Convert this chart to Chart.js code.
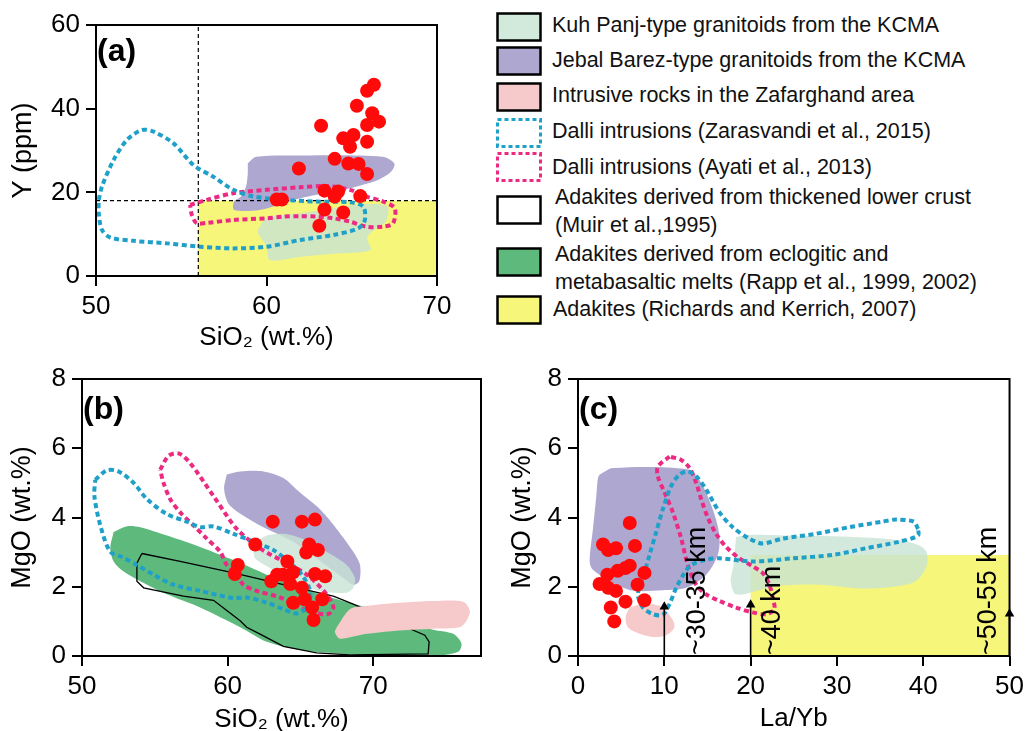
<!DOCTYPE html>
<html lang="en">
<head>
<meta charset="utf-8">
<title>Y and MgO vs SiO2 and La/Yb</title>
<script src="https://cdn.jsdelivr.net/npm/chart.js@4.4.1/dist/chart.umd.min.js"></script>
<style>
  html, body { margin: 0; padding: 0; background: #fff; }
  body { position: relative; width: 1032px; height: 731px; overflow: hidden;
         font-family: "Liberation Sans", Arial, Helvetica, sans-serif; }
  .panel { position: absolute; }
  .leg-box { position: absolute; left: 496px; }
  .leg-text { position: absolute; font-size: 21.5px; line-height: 28px; color: #111; white-space: nowrap; }
</style>
</head>
<body>
<canvas id="chartA" class="panel" width="460" height="352" style="left:0;top:0"></canvas>
<canvas id="chartB" class="panel" width="500" height="374" style="left:0;top:360px"></canvas>
<canvas id="chartC" class="panel" width="532" height="374" style="left:500px;top:360px"></canvas>
<div id="legend"></div>
<script>
// ---- panel (a): Y (ppm) vs SiO2 ----
const aSiO2 = [63.2, 65.3, 65.9, 66.3, 66.2, 66.6, 65.9, 64.5, 65.1, 64.9, 65.9, 64.0, 61.9,
               64.8, 65.4, 65.9, 63.4, 64.2, 64.0, 65.5, 60.6, 60.9, 63.4, 64.5, 63.1];
const aY = [35.9, 40.7, 44.3, 45.7, 38.9, 36.9, 36.1, 32.9, 33.7, 30.9, 32.1, 28.0, 25.7,
            26.9, 26.8, 24.4, 20.4, 20.2, 19.0, 19.1, 18.3, 18.3, 15.9, 15.2, 12.0];
const aAdakite = [[56, 0], [70, 0], [70, 18], [56, 18]];
const aGuideX = [[56, 0], [56, 60]];
const aGuideY = [[50, 18], [70, 18]];
const aKuhPanj = [[59.5, 11.0], [60.0, 13.8], [62.0, 15.0], [63.9, 16.2], [65.9, 17.2], [67.1, 16.6],
  [67.0, 13.0], [66.5, 11.6], [65.9, 9.2], [66.1, 6.2], [63.9, 5.3], [62.0, 4.6], [60.2, 3.8],
  [60.0, 7.0], [59.5, 10.2]];
const aJebal = [[58.9, 26.9], [59.4, 28.5], [62.0, 28.8], [66.8, 28.5], [67.5, 26.9], [67.3, 24.9],
  [66.5, 22.9], [64.9, 21.0], [63.9, 20.2], [62.0, 18.6], [61.0, 17.4], [59.6, 15.8], [58.1, 15.8],
  [58.1, 17.8], [58.5, 19.0], [58.8, 21.4], [58.9, 24.5]];
const aZarasvandi = [[50.16, 18.2], [50.35, 21.4], [51.03, 27.7], [51.81, 32.5], [52.69, 34.9],
  [53.38, 34.5], [54.55, 31.7], [55.72, 26.5], [56.89, 23.7], [58.06, 20.6], [59.23, 19.0],
  [60.99, 18.2], [62.94, 17.8], [64.89, 17.6], [65.67, 16.6], [65.77, 13.4], [65.38, 11.4],
  [63.91, 9.8], [61.96, 8.6], [60.01, 7.0], [58.06, 6.6], [56.11, 7.0], [54.16, 7.8], [52.2, 8.4],
  [50.84, 9.2], [50.35, 11.0], [50.16, 15.0]];
const aAyati = [[55.52, 17.0], [56.5, 18.2], [58.06, 19.8], [60.01, 20.6], [61.96, 21.2], [63.52, 21.5],
  [64.89, 20.6], [65.86, 19.0], [66.84, 17.8], [67.52, 16.2], [67.42, 12.6], [66.84, 11.8],
  [65.86, 11.8], [64.89, 13.0], [63.91, 13.8], [62.94, 14.2], [61.96, 14.3], [60.99, 14.2],
  [60.01, 13.8], [58.06, 13.4], [56.5, 12.7], [55.91, 12.6], [55.62, 14.6]];
const aXTicks = [50, 60, 70];
const aYTicks = [0, 20, 40, 60];

// ---- panel (b): MgO vs SiO2 ----
const bSiO2 = [63.1, 65.1, 66.0, 61.9, 65.6, 66.2, 65.4, 60.7, 60.5, 64.1, 63.4, 63.8,
               64.5, 63.0, 64.3, 66.0, 66.7, 65.1, 64.5, 65.3, 66.5, 65.8, 65.9];
const bMgO = [3.88, 3.88, 3.94, 3.22, 3.22, 3.06, 2.99, 2.63, 2.37, 2.73, 2.35, 2.35,
              2.42, 2.16, 2.08, 2.37, 2.30, 1.97, 1.54, 1.64, 1.64, 1.40, 1.04];
const bRapp = [[52.17, 3.58], [53.09, 3.75], [54.0, 3.72], [55.83, 3.48], [58.11, 3.15], [60.4, 2.77],
  [62.69, 2.35], [64.97, 1.97], [67.26, 1.67], [69.54, 1.40], [71.83, 1.02], [74.11, 0.76],
  [75.49, 0.64], [76.06, 0.36], [75.83, 0.12], [74.11, 0.0], [69.54, 0.03], [67.26, 0.08],
  [64.97, 0.17], [62.69, 0.41], [60.86, 0.83], [58.11, 1.40], [55.83, 1.78], [54.0, 2.16],
  [52.86, 2.44], [52.17, 2.73], [51.94, 3.11]];
const bMuir = [[54.11, 2.96], [56.74, 2.73], [60.4, 2.40], [63.83, 2.06], [67.26, 1.73], [68.63, 1.50],
  [73.54, 0.60], [73.84, 0.41], [73.77, 0.06], [68.4, 0.03], [66.11, 0.09], [63.83, 0.28],
  [62.23, 0.63], [61.31, 0.83], [60.86, 1.02], [59.03, 1.61], [56.97, 1.73], [54.23, 1.97],
  [53.77, 2.16], [53.77, 2.68]];
const bZafarghand = [[67.49, 0.83], [68.4, 1.35], [69.54, 1.45], [71.83, 1.54], [74.11, 1.59],
  [76.17, 1.57], [76.63, 1.31], [76.4, 1.02], [75.94, 0.83], [74.11, 0.79], [71.83, 0.74],
  [69.54, 0.64], [67.71, 0.50], [67.37, 0.69]];
const bJebal = [[59.94, 5.24], [60.86, 5.33], [62.46, 5.33], [63.83, 5.14], [64.97, 4.72], [66.34, 4.24],
  [67.49, 3.67], [68.63, 3.01], [69.09, 2.63], [69.04, 2.16], [68.63, 2.06], [67.94, 2.25],
  [66.11, 2.82], [64.51, 3.30], [62.23, 3.77], [60.17, 4.34], [59.76, 4.81]];
const bKuhPanj = [[61.77, 3.11], [62.46, 3.44], [63.83, 3.53], [65.43, 3.34], [66.8, 3.01], [68.17, 2.63],
  [68.74, 2.25], [68.63, 1.97], [68.17, 1.83], [66.34, 1.88], [64.51, 2.16], [62.91, 2.54], [61.89, 2.82]];
const bZarasvandi = [[50.91, 5.09], [51.71, 5.36], [52.51, 5.33], [53.54, 5.0], [54.46, 4.53],
  [55.83, 4.10], [57.2, 3.88], [58.11, 3.72], [59.03, 3.74], [60.4, 3.53], [61.77, 3.30],
  [63.14, 3.06], [64.17, 2.73], [65.09, 2.35], [65.66, 1.88], [65.54, 1.45], [64.74, 1.23],
  [63.83, 1.35], [62.69, 1.54], [61.31, 1.69], [60.4, 1.67], [58.11, 1.88], [56.28, 2.06],
  [54.91, 2.35], [53.77, 2.63], [52.8, 2.85], [51.94, 3.01], [51.26, 3.77], [50.85, 4.62]];
const bAyati = [[55.37, 5.38], [55.94, 5.78], [56.63, 5.85], [57.43, 5.57], [59.03, 4.62], [60.63, 3.67],
  [62.23, 3.11], [63.83, 2.73], [65.43, 2.35], [66.8, 1.78], [67.26, 1.40], [66.91, 1.21],
  [65.88, 1.26], [64.97, 1.40], [63.6, 1.69], [62.0, 1.88], [61.08, 2.06], [60.63, 2.35],
  [59.94, 2.63], [59.49, 3.01], [58.57, 3.39], [57.66, 3.77], [56.74, 4.15], [56.06, 4.53], [55.6, 5.0]];
const bXTicks = [50, 60, 70];
const bYTicks = [0, 2, 4, 6, 8];

// ---- panel (c): MgO vs La/Yb ----
const cLaYb = [6.0, 2.9, 3.5, 4.4, 6.6, 6.0, 4.6, 5.5, 3.4, 2.5, 3.5, 4.4, 6.9, 7.7, 5.5, 7.7, 3.8, 4.2];
const cMgO = [3.84, 3.22, 3.06, 3.11, 3.18, 2.61, 2.46, 2.54, 2.35, 2.08, 1.97, 1.88, 2.06, 2.40,
              1.57, 1.61, 1.40, 1.00];
const cAdakite = [[20, 0], [50, 0], [50, 2.92], [20, 2.92]];
const cJebal = [[2.51, 5.24], [4.05, 5.43], [12.53, 5.40], [14.07, 5.09], [15.61, 4.24], [16.38, 3.48],
  [16.19, 2.92], [14.85, 2.35], [12.53, 1.97], [9.83, 1.90], [6.36, 1.89], [4.05, 2.11],
  [1.73, 2.49], [1.35, 2.73], [1.73, 3.67], [2.12, 4.62], [2.31, 5.14]];
const cKuhPanj = [[18.3, 3.44], [20.2, 3.50], [25.6, 3.47], [29.5, 3.46], [33.4, 3.42], [37.2, 3.34],
  [39.5, 3.2], [40.4, 3.0], [40.4, 2.6], [39.1, 2.16], [36.5, 2.0], [33.0, 1.95], [28.0, 2.06],
  [24.0, 2.04], [21.0, 1.9], [18.3, 1.78], [17.7, 2.16], [18.0, 2.6], [18.2, 3.1]];
const cZafarghand = [[5.98, 1.40], [7.52, 1.50], [9.44, 1.45], [10.79, 1.12], [11.18, 0.83],
  [10.22, 0.60], [8.67, 0.55], [7.13, 0.64], [5.78, 0.83], [5.51, 1.12]];
const cZarasvandi = [[39.4, 3.67], [38.9, 3.88], [36.82, 3.94], [35.27, 3.88], [31.42, 3.72],
  [27.57, 3.53], [23.71, 3.39], [21.39, 3.25], [19.85, 3.39], [17.92, 3.72], [16.39, 4.15],
  [14.85, 4.81], [13.69, 5.19], [12.72, 5.33], [11.76, 5.24], [10.8, 4.91], [9.83, 4.24],
  [9.06, 3.58], [8.29, 2.92], [7.52, 2.25], [6.94, 1.78], [7.52, 1.40], [8.67, 1.21], [9.83, 1.19],
  [10.6, 1.50], [11.38, 1.97], [12.34, 2.40], [13.11, 2.63], [14.85, 2.78], [16.39, 2.82],
  [20.24, 2.73], [24.86, 2.82], [29.49, 2.92], [33.35, 3.11], [37.2, 3.30], [39.4, 3.48]];
const cAyati = [[10.6, 5.76], [9.25, 5.47], [9.25, 5.19], [10.03, 4.72], [10.99, 4.15], [11.96, 3.39],
  [12.72, 2.63], [13.69, 2.06], [14.85, 1.78], [16.39, 1.59], [18.32, 1.40], [20.24, 1.26],
  [21.78, 1.21], [22.75, 1.35], [22.55, 1.69], [22.17, 2.06], [21.39, 2.40], [20.24, 2.59],
  [18.7, 2.82], [17.16, 3.15], [16.0, 3.53], [15.03, 4.0], [14.27, 4.53], [13.69, 5.0],
  [12.92, 5.43], [11.96, 5.66]];
const arrowX = [10, 20, 50];
const arrowTop = [1.42, 1.48, 1.22];
const depthText = ['~30-35 km', '~40 km', '~50-55 km'];
const depthX = [13.8, 22.5, 47.6];
const depthY0 = 0.03;
const cXTicks = [0, 10, 20, 30, 40, 50];
const cYTicks = [0, 2, 4, 6, 8];

const legendLabels = [
  ['Kuh Panj-type granitoids from the KCMA'],
  ['Jebal Barez-type granitoids from the KCMA'],
  ['Intrusive rocks in the Zafarghand area'],
  ['Dalli intrusions (Zarasvandi et al., 2015)'],
  ['Dalli intrusions (Ayati et al., 2013)'],
  ['Adakites derived from thickened lower crust', '(Muir et al.,1995)'],
  ['Adakites derived from eclogitic and', 'metabasaltic melts (Rapp et al., 1999, 2002)'],
  ['Adakites (Richards and Kerrich, 2007)']
];

const FONT = '"Liberation Sans", Arial, Helvetica, sans-serif';
const COL = {
  kuh: 'rgba(200,228,212,0.8)', jebal: '#aea8d1', zaf: '#f6caca', rapp: '#5db97c',
  adak: '#f6f67a', blue: '#1fa0c9', pink: '#ec2a82', red: '#ff0a0a'
};

const pts = poly => poly.map(([x, y]) => ({ x, y }));
const ring = poly => pts(poly.concat([poly[0]]));

function area(poly, color, order, tension = 0.3) {
  return { type: 'line', data: ring(poly), backgroundColor: color, borderColor: 'rgba(0,0,0,0)',
           borderWidth: 0, fill: 'shape', pointRadius: 0, tension, order };
}
function dotted(poly, color, order) {
  return { type: 'line', data: ring(poly), borderColor: color, borderWidth: 4, borderDash: [5, 3.5],
           borderCapStyle: 'butt', fill: false, pointRadius: 0, tension: 0.3, order };
}
function outline(poly, order) {
  return { type: 'line', data: ring(poly), borderColor: '#000', borderWidth: 1.3, fill: false,
           pointRadius: 0, tension: 0, order };
}
function guide(seg) {
  return { type: 'line', data: pts(seg), borderColor: '#000', borderWidth: 1.2, borderDash: [4, 3],
           fill: false, pointRadius: 0, tension: 0, order: 3 };
}
function samples(xs, ys) {
  return { type: 'scatter', data: xs.map((x, i) => ({ x, y: ys[i] })), backgroundColor: COL.red,
           borderWidth: 0, pointRadius: 7, pointHoverRadius: 7, order: 0 };
}
function arrows() {
  return arrowX.map((x, i) => ({
    type: 'line', data: [{ x, y: 0 }, { x, y: arrowTop[i] }], borderColor: '#000', borderWidth: 1.6,
    pointRadius: [0, 5.5], pointStyle: 'triangle', pointBackgroundColor: '#000', pointBorderWidth: 0,
    fill: false, tension: 0, clip: false, order: 1
  }));
}

function axes(c) {
  const tickFont = { family: FONT, size: 26, lineHeight: 1 };
  const grid = () => ({ display: true, drawOnChartArea: false, drawTicks: true, tickLength: 10,
                        tickWidth: 2, lineWidth: 2, color: '#000', tickColor: '#000' });
  return {
    x: {
      type: 'linear', position: 'bottom', min: c.xRange[0], max: c.xRange[1],
      afterBuildTicks: s => { s.ticks = c.xTicks.map(v => ({ value: v })); },
      afterFit: s => { s.height = c.xH; },
      grid: grid(), border: { display: false },
      ticks: { color: '#000', font: tickFont, padding: 8, maxRotation: 0, autoSkip: false },
      title: { display: true, text: c.xTitle, color: '#000', font: { family: FONT, size: 26, lineHeight: 1 },
               padding: { top: 0, bottom: c.xTitlePad } }
    },
    y: {
      type: 'linear', position: 'left', min: c.yRange[0], max: c.yRange[1],
      afterBuildTicks: s => { s.ticks = c.yTicks.map(v => ({ value: v })); },
      afterFit: s => { s.width = c.yW; },
      grid: grid(), border: { display: false },
      ticks: { color: '#000', font: tickFont, padding: 6, autoSkip: false },
      title: { display: true, text: c.yTitle, color: '#000', font: { family: FONT, size: 27, lineHeight: 1 },
               padding: { top: c.yTitlePad, bottom: 0 } }
    }
  };
}

// frame box, panel letter, depth labels
const frame = {
  id: 'frame',
  afterDatasetsDraw(chart, args, opts) {
    const { ctx, chartArea: a } = chart;
    ctx.save();
    ctx.strokeStyle = '#000';
    ctx.lineWidth = 2;
    ctx.strokeRect(a.left, a.top, a.right - a.left, a.bottom - a.top);
    ctx.fillStyle = '#000';
    ctx.font = 'bold 32px ' + FONT;
    ctx.textAlign = 'left';
    ctx.textBaseline = 'alphabetic';
    ctx.fillText(opts.letter, a.left + 1, a.top + opts.letterDy);
    if (opts.depth) {
      const xs = chart.scales.x, ys = chart.scales.y;
      ctx.font = '27px ' + FONT;
      ctx.textBaseline = 'middle';
      depthText.forEach((t, i) => {
        ctx.save();
        ctx.translate(xs.getPixelForValue(depthX[i]), ys.getPixelForValue(depthY0));
        ctx.rotate(-Math.PI / 2);
        ctx.fillText(t, 0, 0);
        ctx.restore();
      });
    }
    ctx.restore();
  }
};

function makeChart(id, datasets, ax, pad, frameOpts) {
  return new Chart(document.getElementById(id), {
    type: 'scatter',
    data: { datasets },
    options: {
      responsive: false, animation: false, events: [],
      layout: { padding: pad },
      scales: axes(ax),
      plugins: { legend: { display: false }, tooltip: { enabled: false }, frame: frameOpts }
    },
    plugins: [frame]
  });
}

makeChart('chartA', [
  samples(aSiO2, aY),
  dotted(aZarasvandi, COL.blue, 2),
  dotted(aAyati, COL.pink, 2),
  guide(aGuideX), guide(aGuideY),
  area(aJebal, COL.jebal, 6),
  area(aKuhPanj, COL.kuh, 7),
  area(aAdakite, COL.adak, 9, 0)
], { xRange: [50, 70], yRange: [0, 60], xTicks: aXTicks, yTicks: aYTicks, xH: 76, yW: 96,
     xTitle: 'SiO\u2082 (wt.%)', yTitle: 'Y (ppm)', xTitlePad: 1, yTitlePad: 10.5 },
   { top: 25, right: 23, left: 0, bottom: 0 }, { letter: '(a)', letterDy: 36 });

makeChart('chartB', [
  samples(bSiO2, bMgO),
  dotted(bZarasvandi, COL.blue, 2),
  dotted(bAyati, COL.pink, 2),
  area(bKuhPanj, COL.kuh, 5),
  area(bJebal, COL.jebal, 6),
  area(bZafarghand, COL.zaf, 6),
  outline(bMuir, 7),
  area(bRapp, COL.rapp, 9)
], { xRange: [50, 77.4], yRange: [0, 8], xTicks: bXTicks, yTicks: bYTicks, xH: 78, yW: 82,
     xTitle: 'SiO\u2082 (wt.%)', yTitle: 'MgO (wt.%)', xTitlePad: 1, yTitlePad: 9.5 },
   { top: 14, right: 19, left: 0, bottom: 0 }, { letter: '(b)', letterDy: 40 });

makeChart('chartC', [
  samples(cLaYb, cMgO),
  ...arrows(),
  dotted(cZarasvandi, COL.blue, 2),
  dotted(cAyati, COL.pink, 2),
  area(cJebal, COL.jebal, 6),
  area(cZafarghand, COL.zaf, 6),
  area(cKuhPanj, COL.kuh, 7),
  area(cAdakite, COL.adak, 9, 0)
], { xRange: [0, 50], yRange: [0, 8], xTicks: cXTicks, yTicks: cYTicks, xH: 78, yW: 78,
     xTitle: 'La/Yb', yTitle: 'MgO (wt.%)', xTitlePad: 2, yTitlePad: 9.5 },
   { top: 14, right: 21, left: 0, bottom: 0 }, { letter: '(c)', letterDy: 40, depth: true });

// legend (HTML), swatch styles per row
const swatches = [
  { fill: '#d2eadb', stroke: '#000', dash: '' },
  { fill: '#aea8d1', stroke: '#000', dash: '' },
  { fill: '#f6caca', stroke: '#000', dash: '' },
  { fill: '#fff', stroke: COL.blue, dash: '4 3' },
  { fill: '#fff', stroke: COL.pink, dash: '4 3' },
  { fill: '#fff', stroke: '#000', dash: '' },
  { fill: '#5db97c', stroke: '#000', dash: '' },
  { fill: '#f6f67a', stroke: '#000', dash: '' }
];
const boxTop = [12, 46, 82, 118, 152, 195, 247, 295];
const textTop = [11, 46, 81, 117, 153, 183, 240, 295];
const textLeft = [552, 552, 552, 552, 552, 555, 555, 553];
const legend = document.getElementById('legend');
legendLabels.forEach((lines, i) => {
  const s = swatches[i];
  const w = s.dash ? 3 : 2.5;
  const box = document.createElement('div');
  box.className = 'leg-box';
  box.style.top = boxTop[i] + 'px';
  box.innerHTML = '<svg width="48" height="31"><rect x="1.5" y="1.5" width="43" height="27" fill="' + s.fill +
    '" stroke="' + s.stroke + '" stroke-width="' + w + '"' + (s.dash ? ' stroke-dasharray="' + s.dash + '"' : '') + '/></svg>';
  legend.appendChild(box);
  const txt = document.createElement('div');
  txt.className = 'leg-text';
  txt.style.top = textTop[i] + 'px';
  txt.style.left = textLeft[i] + 'px';
  txt.innerHTML = lines.join('<br>');
  legend.appendChild(txt);
});
</script>
</body>
</html>
